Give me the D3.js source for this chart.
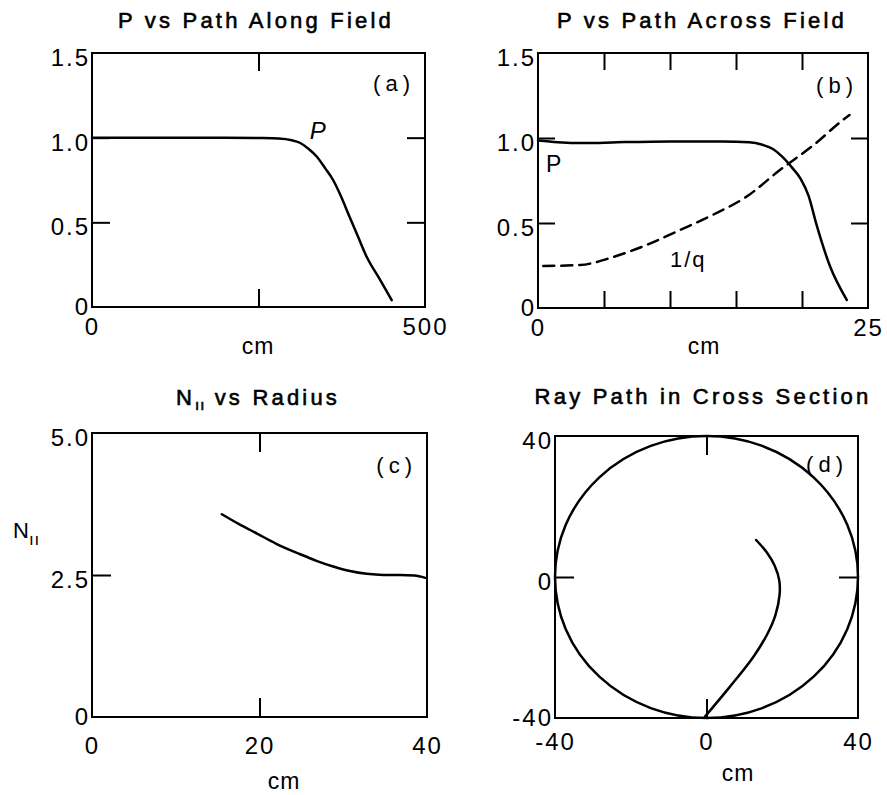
<!DOCTYPE html>
<html>
<head>
<meta charset="utf-8">
<script src="https://cdn.jsdelivr.net/npm/d3@7"></script>
<style>
  html, body { margin: 0; padding: 0; background: #fff; }
  svg { display: block; font-family: "Liberation Sans", Arial, sans-serif; }
</style>
</head>
<body>
<div id="chart"></div>
<script>
// (a) P vs path along field
const alongCm = [0, 50, 100, 150, 200, 250, 280, 300, 312, 325, 337, 350, 362, 372, 387, 400, 412, 432, 450];
const alongP  = [1.0, 1.0, 1.0, 1.0, 1.0, 0.998, 0.995, 0.985, 0.97, 0.935, 0.89, 0.82, 0.75, 0.67, 0.53, 0.41, 0.30, 0.165, 0.04];

// (b) P and 1/q vs path across field
const acrossCm = [0, 1.5, 3.5, 6, 10, 14, 16, 17, 17.8, 18.5, 19.2, 19.9, 20.5, 21.1, 22.1, 23.4];
const acrossP  = [0.985, 0.975, 0.97, 0.975, 0.98, 0.98, 0.975, 0.96, 0.935, 0.89, 0.83, 0.76, 0.66, 0.49, 0.25, 0.047];
const invQCm = [0.4, 3.2, 5.7, 8.2, 10.8, 13.3, 15.8, 18.3, 20.9, 23.1, 23.6];
const invQ   = [0.247, 0.253, 0.30, 0.37, 0.46, 0.55, 0.655, 0.81, 0.96, 1.106, 1.135];

// (c) N-parallel vs radius
const radiusCm = [15.5, 17.5, 19.7, 22, 24.8, 26.8, 28.8, 30.8, 32.8, 34.8, 36.8, 38.5, 39.8];
const nPar     = [3.57, 3.40, 3.23, 3.05, 2.87, 2.75, 2.65, 2.57, 2.52, 2.50, 2.50, 2.49, 2.45];

// (d) ray path in cross section
const rayX = [-0.4, 6.2, 12.4, 16.0, 18.2, 19.3, 19.2, 18.0, 15.9, 13.1];
const rayY = [-39.6, -31.1, -22.6, -16.3, -10.8, -5.0, -0.9, 3.2, 7.0, 10.5];
const plasmaRadius = 40;

const W = 887, H = 795;
const svg = d3.select('#chart').append('svg')
    .attr('width', W).attr('height', H);

const labelFont = { size: 24, spacing: 2 };
const parallelMark = '\u0131\u0131';   // two short strokes used as the "parallel" subscript

// frame, inward ticks and tick labels for one panel
function drawPanel(cfg) {
    const g = svg.append('g');
    const x = d3.scaleLinear().domain(cfg.xDomain).range([cfg.left, cfg.right]);
    const y = d3.scaleLinear().domain(cfg.yDomain).range([cfg.bottom, cfg.top]);

    // inward ticks on all four sides
    const tickAxes = [
        [d3.axisBottom(x).tickValues(cfg.xTicks), `translate(0,${cfg.bottom})`],
        [d3.axisTop(x).tickValues(cfg.xTicks), `translate(0,${cfg.top})`],
        [d3.axisLeft(y).tickValues(cfg.yTicksL), `translate(${cfg.left},0)`],
        [d3.axisRight(y).tickValues(cfg.yTicksR), `translate(${cfg.right},0)`]
    ];
    tickAxes.forEach(([ax, tr]) => {
        const a = g.append('g').attr('transform', tr)
            .call(ax.tickSize(-cfg.tickLen).tickFormat(''));
        a.select('.domain').remove();
        a.selectAll('line').attr('stroke', '#000').attr('stroke-width', 2);
    });

    g.append('rect')
        .attr('x', cfg.left).attr('y', cfg.top)
        .attr('width', cfg.right - cfg.left).attr('height', cfg.bottom - cfg.top)
        .attr('fill', 'none').attr('stroke', '#000').attr('stroke-width', 2);

    // tick labels
    const xl = g.append('g').attr('transform', `translate(0,${cfg.bottom})`)
        .call(d3.axisBottom(x).tickValues(cfg.xLabels).tickSize(0)
            .tickPadding(cfg.xPad).tickFormat(cfg.xFmt));
    const yl = g.append('g').attr('transform', `translate(${cfg.left},0)`)
        .call(d3.axisLeft(y).tickValues(cfg.yLabels).tickSize(0)
            .tickPadding(2).tickFormat(cfg.yFmt));
    [xl, yl].forEach(a => {
        a.select('.domain').remove();
        a.selectAll('text')
            .attr('fill', '#000')
            .style('font-family', '"Liberation Sans", Arial, sans-serif')
            .style('font-size', labelFont.size + 'px')
            .style('letter-spacing', labelFont.spacing + 'px');
    });
    yl.selectAll('text').attr('dy', d => d === cfg.yDomain[0] ? '0.32em' : '0.52em');

    // title (slightly heavier lettering)
    const t = g.append('text')
        .attr('x', cfg.titleX).attr('y', cfg.titleY)
        .attr('text-anchor', 'middle')
        .attr('stroke', '#000').attr('stroke-width', 0.6)
        .style('font-size', '22px').style('letter-spacing', '3.2px');
    cfg.title.forEach(part => {
        const s = t.append('tspan').text(part.text);
        if (part.sub) s.attr('dy', 5).style('font-size', '15px').style('letter-spacing', '1px');
        if (part.up) s.attr('dy', -5);
    });

    // axis unit
    g.append('text').attr('x', cfg.cmX).attr('y', cfg.cmY)
        .attr('text-anchor', 'middle')
        .style('font-size', '23px').style('letter-spacing', '1px')
        .text('cm');

    // panel tag
    g.append('text').attr('x', cfg.right - 10).attr('y', cfg.top + cfg.tagDy)
        .attr('text-anchor', 'end')
        .style('font-size', '22px').style('letter-spacing', '5px')
        .text(cfg.tag);

    return { g, x, y };
}

function plotLine(p, xs, ys, dash) {
    const pts = xs.map((v, i) => [v, ys[i]]);
    const line = d3.line()
        .x(d => p.x(d[0])).y(d => p.y(d[1]))
        .curve(d3.curveMonotoneX);
    p.g.append('path').datum(pts)
        .attr('d', line)
        .attr('fill', 'none').attr('stroke', '#000')
        .attr('stroke-width', 2.5)
        .attr('stroke-linecap', 'round')
        .attr('stroke-dasharray', dash || null);
}

const fmt1 = d => d === 0 ? '0' : d3.format('.1f')(d);
const fmtInt = d => String(d);

// panel (a)
const pa = drawPanel({
    left: 92, right: 425, top: 53, bottom: 307,
    xDomain: [0, 500], yDomain: [0, 1.5],
    xTicks: [250], yTicksL: [0.5, 1.0], yTicksR: [0.5, 1.0], tickLen: 18,
    xLabels: [0, 500], yLabels: [0, 0.5, 1.0, 1.5], xFmt: fmtInt, yFmt: fmt1, xPad: 11,
    title: [{ text: 'P vs Path Along Field' }], titleX: 256, titleY: 28,
    cmX: 258, cmY: 354, tag: '(a)', tagDy: 38
});
plotLine(pa, alongCm, alongP);
pa.g.append('text').attr('x', pa.x(327)).attr('y', pa.y(1.0) + 1)
    .style('font-size', '24px').style('font-style', 'italic').text('P');

// panel (b)
const pb = drawPanel({
    left: 538, right: 868, top: 53, bottom: 308,
    xDomain: [0, 25], yDomain: [0, 1.5],
    xTicks: [5, 10, 15, 20], yTicksL: [0.5, 1.0], yTicksR: [0.5, 1.0], tickLen: 17,
    xLabels: [0, 25], yLabels: [0, 0.5, 1.0, 1.5], xFmt: fmtInt, yFmt: fmt1, xPad: 11,
    title: [{ text: 'P vs Path Across Field' }], titleX: 702, titleY: 28,
    cmX: 704, cmY: 354, tag: '(b)', tagDy: 40
});
plotLine(pb, acrossCm, acrossP);
plotLine(pb, invQCm, invQ, '11,7');
pb.g.append('text').attr('x', pb.x(0.6)).attr('y', pb.y(0.80))
    .style('font-size', '23px').text('P');
pb.g.append('text').attr('x', pb.x(10)).attr('y', pb.y(0.24))
    .style('font-size', '22px').style('letter-spacing', '2px').text('1/q');

// panel (c)
const pc = drawPanel({
    left: 92, right: 427, top: 433, bottom: 717,
    xDomain: [0, 40], yDomain: [0, 5.0],
    xTicks: [20], yTicksL: [2.5], yTicksR: [], tickLen: 19,
    xLabels: [0, 20, 40], yLabels: [0, 2.5, 5.0], xFmt: fmtInt, yFmt: fmt1, xPad: 20,
    title: [{ text: 'N' }, { text: parallelMark, sub: true }, { text: ' vs Radius', up: true }],
    titleX: 258, titleY: 405,
    cmX: 284, cmY: 789, tag: '(c)', tagDy: 40
});
plotLine(pc, radiusCm, nPar);
const nLab = pc.g.append('text').attr('x', 13).attr('y', 538).style('font-size', '22px');
nLab.append('tspan').text('N');
nLab.append('tspan').attr('dy', 7).style('font-size', '17px')
    .style('letter-spacing', '1px').text(parallelMark);

// panel (d)
const pd = drawPanel({
    left: 555, right: 858, top: 436, bottom: 718,
    xDomain: [-40, 40], yDomain: [-40, 40],
    xTicks: [0], yTicksL: [0], yTicksR: [0], tickLen: 19,
    xLabels: [-40, 0, 40], yLabels: [-40, 0, 40], xFmt: fmtInt, yFmt: fmtInt, xPad: 15,
    title: [{ text: 'Ray Path in Cross Section' }], titleX: 703, titleY: 404,
    cmX: 738, cmY: 781, tag: '(d)', tagDy: 36
});
pd.g.append('ellipse')
    .attr('cx', pd.x(0)).attr('cy', pd.y(0))
    .attr('rx', pd.x(plasmaRadius) - pd.x(0))
    .attr('ry', pd.y(0) - pd.y(plasmaRadius))
    .attr('fill', 'none').attr('stroke', '#000').attr('stroke-width', 2.5);
// ray path is not monotone in x, so use a parametric curve
const rayPts = rayX.map((v, i) => [v, rayY[i]]);
pd.g.append('path').datum(rayPts)
    .attr('d', d3.line().x(d => pd.x(d[0])).y(d => pd.y(d[1])).curve(d3.curveCatmullRom.alpha(0.5)))
    .attr('fill', 'none').attr('stroke', '#000').attr('stroke-width', 2.5)
    .attr('stroke-linecap', 'round');
</script>
</body>
</html>
